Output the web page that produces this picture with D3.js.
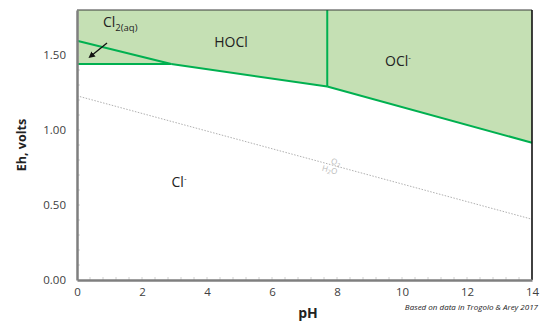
<!DOCTYPE html>
<html>
<head>
<meta charset="utf-8">
<script src="https://cdn.jsdelivr.net/npm/d3@7"></script>
<style>
  body { margin: 0; background: #fff; }
  text { font-family: 'Open Sans', 'Liberation Sans', sans-serif; }
</style>
</head>
<body>
<svg id="chart" width="541" height="322"></svg>
<script>
// boundary lines, [pH, Eh]
const cl2Hocl = [[0, 1.595], [2.9, 1.44]];
const cl2Cl = [[0, 1.44], [2.9, 1.44]];
const hoclCl = [[2.9, 1.44], [7.7, 1.29]];
const hoclOcl = [[7.7, 1.29], [7.7, 1.8]];
const oclCl = [[7.7, 1.29], [14, 0.915]];
const waterLine = [[0, 1.228], [14, 0.405]];
const xTicks = [0, 2, 4, 6, 8, 10, 12, 14];
const yTicks = [0, 0.5, 1.0, 1.5];

const margin = { top: 10, right: 9, bottom: 42, left: 77 },
  width = 541,
  height = 322;

const svg = d3.select('#chart');

const x = d3.scaleLinear().domain([0, 14]).range([margin.left, width - margin.right]);
const y = d3.scaleLinear().domain([0, 1.8]).range([height - margin.bottom, margin.top]);

const line = d3.line().x(d => x(d[0])).y(d => y(d[1]));

// green area above the Cl- region
const upper = [[0, 1.8], [0, 1.44], ...hoclCl, ...oclCl.slice(1), [14, 1.8]];
svg.append('path')
  .attr('d', line(upper))
  .attr('fill', '#c5e0b4');

// minor ticks
svg.append('g')
  .selectAll('line')
  .data(d3.range(0.4, 14, 0.4))
  .join('line')
  .attr('x1', d => x(d)).attr('x2', d => x(d))
  .attr('y1', y(0)).attr('y2', y(0) - 3)
  .attr('stroke', '#d0d0d0');

svg.append('g')
  .selectAll('line')
  .data(d3.range(0.1, 1.8, 0.1))
  .join('line')
  .attr('x1', x(0)).attr('x2', x(0) + 3)
  .attr('y1', d => y(d)).attr('y2', d => y(d))
  .attr('stroke', '#d0d0d0');

// O2 / H2O line
svg.append('path')
  .attr('d', line(waterLine))
  .attr('fill', 'none')
  .attr('stroke', '#b0b0b0')
  .attr('stroke-width', 1)
  .attr('stroke-dasharray', '1.5,1.5');

const ang = Math.atan2(y(waterLine[1][1]) - y(waterLine[0][1]), x(14) - x(0)) * 180 / Math.PI;
const wx = x(7.85), wy = y(1.228 + (0.405 - 1.228) * 7.85 / 14);
const wl = svg.append('g')
  .attr('transform', `translate(${wx},${wy}) rotate(${ang})`)
  .attr('fill', '#b8b8b8')
  .attr('font-size', 8);
wl.append('text').attr('text-anchor', 'middle').attr('x', 3).attr('y', -1)
  .call(t => {
    t.append('tspan').text('O');
    t.append('tspan').attr('font-size', 6).attr('dy', 1.5).text('2');
  });
wl.append('text').attr('text-anchor', 'middle').attr('x', -1).attr('y', 8)
  .call(t => {
    t.append('tspan').text('H');
    t.append('tspan').attr('font-size', 6).attr('dy', 1.5).text('2');
    t.append('tspan').attr('dy', -1.5).text('O');
  });

// green boundaries
[cl2Hocl, cl2Cl, hoclCl, hoclOcl, oclCl].forEach(seg => {
  svg.append('path')
    .attr('d', line(seg))
    .attr('fill', 'none')
    .attr('stroke', '#00b050')
    .attr('stroke-width', 2);
});

// frame: top and right dark, axes gray
svg.append('line')
  .attr('x1', x(0)).attr('x2', x(14))
  .attr('y1', y(1.8)).attr('y2', y(1.8))
  .attr('stroke', '#3a3a3a').attr('stroke-width', 1.2);
svg.append('line')
  .attr('x1', x(14)).attr('x2', x(14))
  .attr('y1', y(1.8)).attr('y2', y(0))
  .attr('stroke', '#111').attr('stroke-width', 1.6);

const xAxis = svg.append('g')
  .attr('transform', `translate(0,${y(0)})`)
  .call(d3.axisBottom(x).tickValues(xTicks).tickSize(0).tickPadding(8).tickFormat(d3.format('d')));
const yAxis = svg.append('g')
  .attr('transform', `translate(${x(0)},0)`)
  .call(d3.axisLeft(y).tickValues(yTicks).tickSize(0).tickPadding(11).tickFormat(d3.format('.2f')));

[xAxis, yAxis].forEach(g => {
  g.select('.domain').attr('stroke', '#7f7f7f').attr('stroke-width', 2.5);
  g.selectAll('text').attr('font-size', 11.5).attr('fill', '#404040')
    .attr('font-family', "'Open Sans', sans-serif");
});

// region labels
svg.append('text')
  .attr('x', 103).attr('y', 27)
  .attr('font-size', 14).attr('fill', '#222')
  .call(t => {
    t.append('tspan').text('Cl');
    t.append('tspan').attr('font-size', 9.5).attr('dy', 4).text('2(aq)');
  });

svg.append('defs').append('marker')
  .attr('id', 'arrow')
  .attr('viewBox', '0 0 10 10')
  .attr('refX', 5).attr('refY', 5)
  .attr('markerWidth', 5).attr('markerHeight', 5)
  .attr('orient', 'auto')
  .append('path').attr('d', 'M0,0L10,5L0,10z').attr('fill', '#111');

svg.append('line')
  .attr('x1', 107).attr('y1', 43)
  .attr('x2', 91).attr('y2', 56)
  .attr('stroke', '#111').attr('stroke-width', 1.3)
  .attr('marker-end', 'url(#arrow)');

svg.append('text')
  .attr('x', 231).attr('y', 47)
  .attr('text-anchor', 'middle')
  .attr('font-size', 14).attr('fill', '#222')
  .text('HOCl');

svg.append('text')
  .attr('x', 398).attr('y', 66)
  .attr('text-anchor', 'middle')
  .attr('font-size', 14).attr('fill', '#222')
  .call(t => {
    t.append('tspan').text('OCl');
    t.append('tspan').attr('font-size', 8).attr('dy', -6).text('-');
  });

svg.append('text')
  .attr('x', 179).attr('y', 187)
  .attr('text-anchor', 'middle')
  .attr('font-size', 14).attr('fill', '#222')
  .call(t => {
    t.append('tspan').text('Cl');
    t.append('tspan').attr('font-size', 8).attr('dy', -6).text('-');
  });

// axis titles
svg.append('text')
  .attr('transform', `translate(26,${(y(0) + y(1.8)) / 2}) rotate(-90)`)
  .attr('text-anchor', 'middle')
  .attr('font-size', 12.5).attr('font-weight', 'bold').attr('fill', '#222')
  .text('Eh, volts');

svg.append('text')
  .attr('x', 308).attr('y', 318)
  .attr('text-anchor', 'middle')
  .attr('font-size', 14).attr('font-weight', 'bold').attr('fill', '#222')
  .text('pH');

svg.append('text')
  .attr('x', 538).attr('y', 310)
  .attr('text-anchor', 'end')
  .attr('font-size', 8).attr('font-style', 'italic').attr('fill', '#222')
  .text('Based on data in  Trogolo & Arey 2017');
</script>
</body>
</html>
